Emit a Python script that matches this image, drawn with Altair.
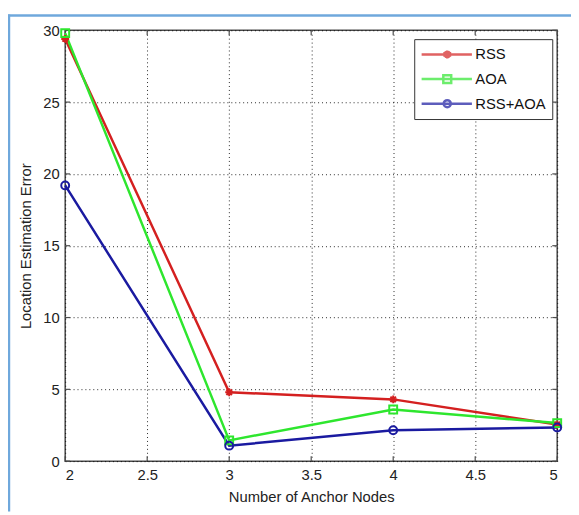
import altair as alt
import pandas as pd

# ---- data ----
nodes = [2, 3, 4, 5]
rss = [29.4, 4.8, 4.3, 2.55]
aoa = [29.8, 1.45, 3.6, 2.65]
rss_aoa = [19.2, 1.08, 2.15, 2.35]
series_names = ["RSS", "AOA", "RSS+AOA"]
series_colors = ["#d42020", "#2ee62e", "#1a1aa0"]
x_ticks = [2, 2.5, 3, 3.5, 4, 4.5, 5]
y_ticks = [0, 5, 10, 15, 20, 25, 30]

rows = []
for name, vals in zip(series_names, [rss, aoa, rss_aoa]):
    for n, v in zip(nodes, vals):
        rows.append({"nodes": n, "error": v, "series": name})
df = pd.DataFrame(rows)

W, H = 499, 437
FONT = "Liberation Sans"

xscale = alt.Scale(domain=[2, 5], nice=False, zero=False)
yscale = alt.Scale(domain=[0, 30], nice=False)

asterisk = "M0,-1V1M-1,0H1M-0.7,-0.7L0.7,0.7M-0.7,0.7L0.7,-0.7"
marker_shapes = [asterisk, "square", "circle"]

# legend symbols: line sample with a marker in the middle (units scaled by sqrt(size)/2 = 8px)
leg_rss = "M-1,0H5.375M2.25,-0.5V0.5M1.9,-0.35L2.6,0.35M1.9,0.35L2.6,-0.35M1.75,-0.15H2.75M1.75,0.15H2.75"
leg_aoa = "M-1,0H5.375M1.75,-0.5H2.75V0.5H1.75Z"
leg_both = "M-1,0H5.375M1.8,0A0.45,0.45 0 1,0 2.7,0A0.45,0.45 0 1,0 1.8,0"
legend_shapes = [leg_rss, leg_aoa, leg_both]

X = alt.X("nodes:Q", scale=xscale,
          axis=alt.Axis(values=x_ticks, format="~g", title="Number of Anchor Nodes",
                        grid=True, labelPadding=7, titlePadding=7))
Y = alt.Y("error:Q", scale=yscale,
          axis=alt.Axis(values=y_ticks, format="~g", title="Location Estimation Error",
                        grid=True, labelPadding=6, titlePadding=9))

base = alt.Chart(df)

lines = base.mark_line(strokeWidth=2.5).encode(
    x=X, y=Y,
    color=alt.Color("series:N", scale=alt.Scale(domain=series_names, range=series_colors), legend=None),
    detail="series:N",
)

points = base.mark_point(filled=False, strokeWidth=2, size=64, opacity=1).encode(
    x="nodes:Q", y="error:Q",
    color=alt.Color("series:N", scale=alt.Scale(domain=series_names, range=series_colors), legend=None),
    shape=alt.Shape("series:N", scale=alt.Scale(domain=series_names, range=marker_shapes), legend=None),
)

leg_kwargs = dict(
    title=None, orient="none", legendX=354, legendY=9,
    strokeColor="#333333", fillColor="white", padding=6,
    labelFont=FONT, labelFontSize=15, labelColor="#111111",
    symbolSize=256, symbolStrokeWidth=2.5, labelOffset=37, rowPadding=6,
)

legend_layer = base.mark_point(filled=False, strokeWidth=2.5, size=256).encode(
    x="nodes:Q", y="error:Q",
    color=alt.Color("series:N", scale=alt.Scale(domain=series_names, range=series_colors),
                    legend=alt.Legend(**leg_kwargs)),
    shape=alt.Shape("series:N", scale=alt.Scale(domain=series_names, range=legend_shapes),
                    legend=alt.Legend(**leg_kwargs)),
).transform_filter("false")

# inward ticks (MATLAB style) on all four sides
xt = pd.DataFrame({"v": x_ticks})
yt = pd.DataFrame({"v": y_ticks})
tick_style = dict(color="#4d4d4d", strokeWidth=1.2)
xt_bottom = alt.Chart(xt).mark_rule(**tick_style).encode(
    x=alt.X("v:Q", scale=xscale), y=alt.value(H), y2=alt.value(H - 5))
xt_top = alt.Chart(xt).mark_rule(**tick_style).encode(
    x=alt.X("v:Q", scale=xscale), y=alt.value(0), y2=alt.value(5))
yt_left = alt.Chart(yt).mark_rule(**tick_style).encode(
    y=alt.Y("v:Q", scale=yscale), x=alt.value(0), x2=alt.value(5))
yt_right = alt.Chart(yt).mark_rule(**tick_style).encode(
    y=alt.Y("v:Q", scale=yscale), x=alt.value(W), x2=alt.value(W - 5))

# light blue figure border (left and top)
one = pd.DataFrame({"a": [0]})
border_left = alt.Chart(one).mark_rule(color="#6fa8dc", strokeWidth=2.5).encode(
    x=alt.value(-57), y=alt.value(-16), y2=alt.value(H + 51))
border_top = alt.Chart(one).mark_rule(color="#6fa8dc", strokeWidth=2.5).encode(
    y=alt.value(-15), x=alt.value(-58), x2=alt.value(W + 14))

chart = alt.layer(
    xt_bottom, xt_top, yt_left, yt_right,
    lines, points, legend_layer, border_left, border_top,
).resolve_scale(
    color="independent", shape="independent"
).properties(
    width=W, height=H,
    padding={"left": 58, "top": 19, "right": 14, "bottom": 51},
    autosize="none",
    background="white",
).configure_view(
    stroke="#4a4a4a", strokeWidth=1.5
).configure_axis(
    labelFont=FONT, labelFontSize=15, labelColor="#222222",
    titleFont=FONT, titleFontSize=15, titleFontWeight="normal", titleColor="#222222",
    ticks=False, domain=False,
    gridColor="#000000", gridDash=[1, 3], gridWidth=1, gridOpacity=0.85,
)

chart.save("out.html", embed_options={"renderer": "svg", "actions": False})
